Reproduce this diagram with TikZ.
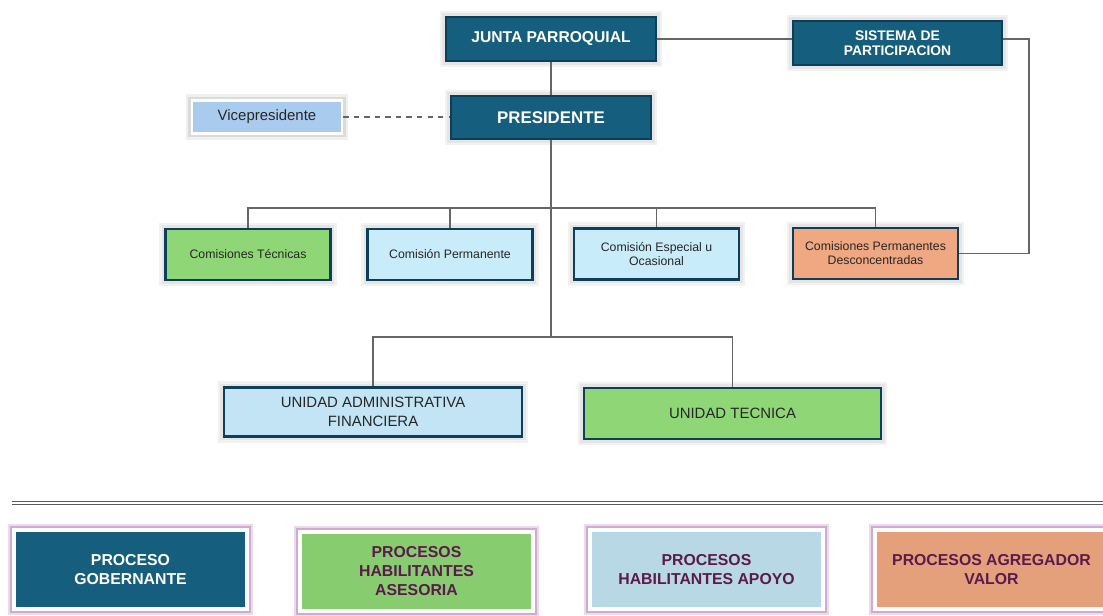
\documentclass[tikz,border=0pt]{standalone}
\usepackage{fontspec}
\setmainfont{Liberation Sans}
\usetikzlibrary{positioning}
\definecolor{govblue}{HTML}{165E7E}
\definecolor{govline}{HTML}{0E3F5A}
\definecolor{asesgreen}{HTML}{8FD776}
\definecolor{apoyoblue}{HTML}{C9ECFB}
\definecolor{uafblue}{HTML}{C2E4F5}
\definecolor{valororange}{HTML}{F0A882}
\definecolor{vicefill}{HTML}{A9CBEE}
\definecolor{procpurple}{HTML}{5B1A4C}
\definecolor{glowpurple}{HTML}{C495C6}
\tikzset{
    % Organisation chart boxes - navy border with soft grey halo
    org box/.style={rectangle, draw=govline, line width=1.2pt, align=center,
        inner sep=2pt, preaction={draw=black!5, line width=7pt},
        preaction={draw=black!10, line width=4pt}},
    % Governing bodies - dark blue, white bold text
    gov box/.style={org box, fill=govblue, text=white,
        font={\fontsize{8.9}{10}\selectfont\bfseries}},
    % Commissions - small regular text
    comm box/.style={org box, minimum width=3.3cm, minimum height=1.02cm,
        text=black!85, font={\fontsize{7}{8}\selectfont}},
    % Units - larger regular text
    unit box/.style={org box, minimum width=5.96cm, minimum height=0.98cm,
        text=black!85, font={\fontsize{8.5}{10.5}\selectfont}},
    % Vicepresidente - white frame, light blue
    vice box/.style={rectangle, draw=white, line width=1.4pt, fill=vicefill,
        minimum width=3.0cm, minimum height=0.66cm, text=black!85,
        font={\fontsize{8.5}{10}\selectfont},
        preaction={draw=black!6, line width=7pt},
        preaction={draw=black!14, line width=4pt}},
    % Legend of processes - white frame with purple glow
    process box/.style={rectangle, draw=white, line width=2.3pt,
        minimum width=4.66cm, minimum height=1.58cm, align=center, text=procpurple,
        font={\fontsize{9}{10.8}\selectfont\bfseries},
        preaction={draw=glowpurple!35, line width=7pt},
        preaction={draw=glowpurple!80, line width=4.5pt}},
    % Connector lines
    link/.style={draw=black!60, line width=0.6pt},
    dashed link/.style={link, dashed}
}
\begin{document}
\begin{tikzpicture}
    \useasboundingbox (0,0) rectangle (22.06,-12.3);

    % --- Governing level ---
    \node[gov box, minimum width=4.2cm, minimum height=0.88cm] (junta) at (11.02,-0.78) {JUNTA PARROQUIAL};
    \node[gov box, minimum width=4.18cm, minimum height=0.88cm, font={\fontsize{7.9}{8.8}\selectfont\bfseries}]
        (sistema) at (17.95,-0.86) {SISTEMA DE\\PARTICIPACION};
    \node[gov box, minimum width=4.0cm, minimum height=0.86cm, font={\fontsize{9.6}{11}\selectfont\bfseries}]
        (pres) at (11.02,-2.35) {PRESIDENTE};
    \node[vice box] (vice) at (5.34,-2.34) {Vicepresidente};

    % --- Commissions ---
    \node[comm box, fill=asesgreen] (tecnicas) at (4.96,-5.09) {Comisiones Técnicas};
    \node[comm box, fill=apoyoblue] (permanente) at (9.0,-5.09) {Comisión Permanente};
    \node[comm box, fill=apoyoblue] (especial) at (13.13,-5.08) {Comisión Especial u\\Ocasional};
    \node[comm box, fill=valororange] (descon) at (17.51,-5.07) {Comisiones Permanentes\\Desconcentradas};

    % --- Units ---
    \node[unit box, fill=uafblue] (uaf) at (7.46,-8.24) {UNIDAD ADMINISTRATIVA\\FINANCIERA};
    \node[unit box, fill=asesgreen, minimum width=5.94cm, minimum height=1.02cm] (tecnica) at (14.65,-8.27) {UNIDAD TECNICA};

    % --- Connectors ---
    \coordinate (bus1) at (11.02,-4.16);
    \coordinate (bus2) at (11.02,-6.74);
    \coordinate (sisturn) at (20.58,-0.78);
    \draw[link] (junta) -- (pres);
    \draw[link] (junta.east) -- (junta.east -| sistema.west);
    \draw[dashed link] (vice.east) -- (vice.east -| pres.west);
    \draw[link] (sistema.east |- sisturn) -- (sisturn) |- (descon.east);
    \draw[link] (pres.south) -- (bus2);
    \draw[link] (tecnicas.north) |- (bus1) -| (descon.north);
    \draw[link] (permanente.north) -- (permanente.north |- bus1);
    \draw[link] (especial.north) -- (especial.north |- bus1);
    \draw[link] (uaf.north) |- (bus2) -| (tecnica.north);

    % --- Separator ---
    \coordinate (sepL) at (0.24,-10.06);
    \coordinate (sepR) at (22.06,-10.06);
    \draw[black!65, line width=0.5pt, double=white, double distance=0.9pt] (sepL) -- (sepR);

    % --- Legend of processes ---
    \node[process box, fill=govblue, text=white] (gob) at (2.61,-11.39) {PROCESO\\GOBERNANTE};
    \node[process box, fill=asesgreen!95!black] (ases) at (8.33,-11.43) {PROCESOS\\HABILITANTES\\ASESORIA};
    \node[process box, fill=apoyoblue!85!uafblue!92!black] (apoyo) at (14.13,-11.39) {PROCESOS\\HABILITANTES APOYO};
    \node[process box, fill=valororange!95!black] (valor) at (19.83,-11.39) {PROCESOS AGREGADOR\\VALOR};
\end{tikzpicture}
\end{document}
